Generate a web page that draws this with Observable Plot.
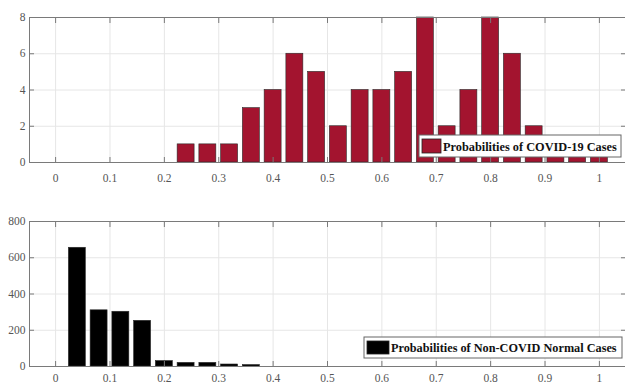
<!DOCTYPE html>
<html>
<head>
<meta charset="utf-8">
<script src="https://cdn.jsdelivr.net/npm/d3@7"></script>
<script src="https://cdn.jsdelivr.net/npm/@observablehq/plot@0.6"></script>
<style>
  html, body { margin: 0; padding: 0; background: #fff; }
  #chart { width: 625px; }
  #chart svg { display: block; overflow: visible; }
</style>
</head>
<body>
<div id="chart"></div>
<script>
// Bin centres (probability) and counts
const binCenters = [0.04, 0.08, 0.12, 0.16, 0.20, 0.24, 0.28, 0.32, 0.36, 0.40, 0.44, 0.48, 0.52, 0.56, 0.60, 0.64, 0.68, 0.72, 0.76, 0.80, 0.84, 0.88, 0.92, 0.96, 1.00];
const covidCounts = [0, 0, 0, 0, 0, 1, 1, 1, 3, 4, 6, 5, 2, 4, 4, 5, 8, 2, 4, 8, 6, 2, 1, 1, 1];
const normalCounts = [655, 310, 302, 252, 30, 20, 20, 11, 8, 0, 0, 0, 0, 0, 0, 0, 0, 0, 0, 0, 0, 0, 0, 0, 0];
const xTicks = [0, 0.1, 0.2, 0.3, 0.4, 0.5, 0.6, 0.7, 0.8, 0.9, 1];
const covidYTicks = [0, 2, 4, 6, 8];
const normalYTicks = [0, 200, 400, 600, 800];
const legendLabels = ["Probabilities of COVID-19 Cases", "Probabilities of Non-COVID Normal Cases"];

const halfWidth = 0.0156;
const fmtX = d => String(+d.toFixed(1));
const axisColor = "#7a7a7a";
const gridColor = "#e6e6e6";
const serif = "'Liberation Serif', 'Times New Roman', serif";

function panel({counts, yTicks, yMax, fill, height, marginTop, marginBottom, labelOffset}) {
  const data = binCenters.map((c, i) => ({c, n: counts[i]}));
  return Plot.plot({
    width: 625,
    height,
    marginTop,
    marginBottom,
    marginLeft: 29,
    marginRight: 0,
    style: {fontFamily: serif, fontSize: "11.5px", color: "#555", background: "#fff"},
    x: {domain: [-0.048, 1.048], label: null},
    y: {domain: [0, yMax], label: null},
    marks: [
      Plot.gridX(xTicks, {stroke: gridColor, strokeOpacity: 1}),
      Plot.gridY(yTicks, {stroke: gridColor, strokeOpacity: 1}),
      Plot.rectY(data, {x1: d => d.c - halfWidth, x2: d => d.c + halfWidth, y: "n", fill, stroke: "#2a2a2a", strokeWidth: 0.6}),
      Plot.frame({stroke: axisColor, strokeWidth: 1}),
      Plot.axisX(xTicks, {anchor: "bottom", tickSize: 0, tickPadding: labelOffset, tickFormat: fmtX, stroke: axisColor, label: null}),
      Plot.axisX(xTicks, {anchor: "bottom", tickSize: -5, tickFormat: () => "", stroke: axisColor, label: null}),
      Plot.axisX(xTicks, {anchor: "top", tickSize: -5, tickFormat: () => "", stroke: axisColor, label: null}),
      Plot.axisY(yTicks, {anchor: "left", tickSize: 0, tickPadding: 4, stroke: axisColor, label: null}),
      Plot.axisY(yTicks, {anchor: "left", tickSize: -5, tickFormat: () => "", stroke: axisColor, label: null}),
      Plot.axisY(yTicks, {anchor: "right", tickSize: -5, tickFormat: () => "", stroke: axisColor, label: null})
    ]
  });
}

function addLegend(plot, fill, legend) {
  const svg = d3.select(plot);
  const g = svg.append("g").attr("text-anchor", "start");
  g.append("rect").attr("x", legend.x0).attr("y", legend.y0).attr("width", legend.x1 - legend.x0).attr("height", legend.y1 - legend.y0)
    .attr("fill", "#fff").attr("stroke", "#666").attr("stroke-width", 1);
  g.append("rect").attr("x", legend.sx0).attr("y", legend.sy0).attr("width", legend.sx1 - legend.sx0).attr("height", legend.sy1 - legend.sy0)
    .attr("fill", fill).attr("stroke", "#222").attr("stroke-width", 0.8);
  const tg = g.append("g");
  const t = tg.append("text").attr("x", 0).attr("y", 0).text(legend.label)
    .attr("text-anchor", "start")
    .attr("font-family", serif).attr("font-weight", "bold").attr("font-size", 13.5)
    .attr("fill", "#111");
  const natural = t.node().getComputedTextLength() || legend.tw;
  const sx = Math.min(1, legend.tw / natural);
  tg.attr("transform", `translate(${legend.tx},${legend.ty}) scale(${sx},1)`);
}

const chart = document.getElementById("chart");
const covidPlot = panel({
  counts: covidCounts, yTicks: covidYTicks, yMax: 8, fill: "#A3142F",
  height: 190, marginTop: 17, marginBottom: 28, labelOffset: 11
});
const normalPlot = panel({
  counts: normalCounts, yTicks: normalYTicks, yMax: 800, fill: "#000",
  height: 193, marginTop: 31, marginBottom: 17, labelOffset: 7
});
chart.append(covidPlot, normalPlot);
addLegend(covidPlot, "#A3142F", {x0: 419, x1: 621, y0: 135, y1: 157, sx0: 422, sx1: 441, sy0: 139, sy1: 153, tx: 443, ty: 151, tw: 174, label: legendLabels[0]});
addLegend(normalPlot, "#000", {x0: 364, x1: 622, y0: 147, y1: 168, sx0: 367, sx1: 389, sy0: 151, sy1: 164, tx: 391, ty: 162, tw: 226, label: legendLabels[1]});
</script>
</body>
</html>
